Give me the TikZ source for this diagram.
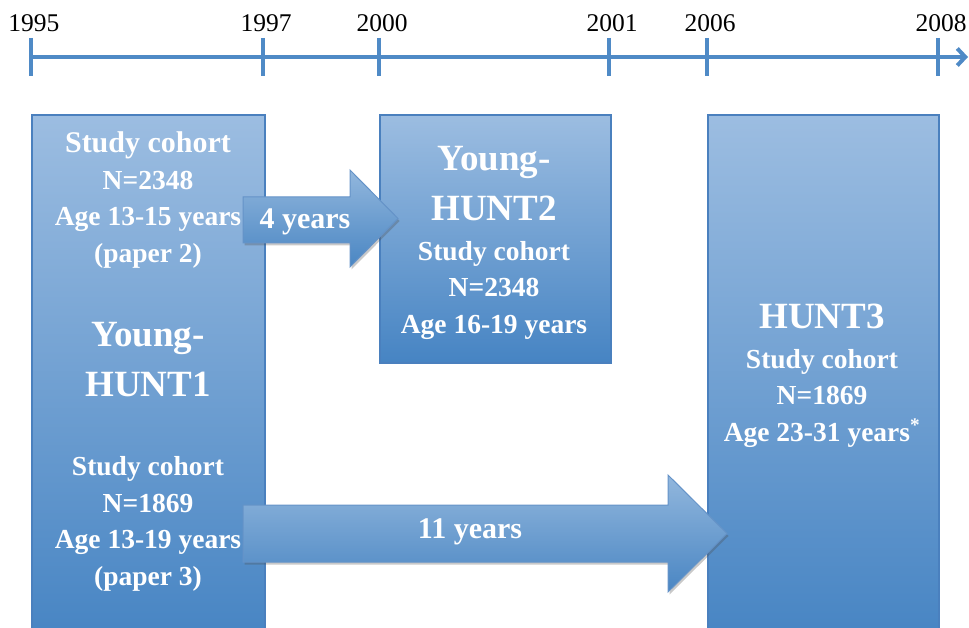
\documentclass[tikz,border=0pt]{standalone}
\usepackage{fontspec}
\setmainfont{Liberation Serif}
\usetikzlibrary{arrows.meta,shadows}
\definecolor{tl}{HTML}{4F8AC6}
\definecolor{btop}{HTML}{9CBDE1}
\definecolor{bbot}{HTML}{4684C3}
\definecolor{bord}{HTML}{4A80BE}
\definecolor{atop}{HTML}{92B7DD}
\definecolor{abot}{HTML}{4A86C3}
\tikzset{
  cohort/.style={draw=bord, line width=1.6pt, top color=btop, bottom color=bbot,
    drop shadow={shadow xshift=1.5pt, shadow yshift=-1.5pt, opacity=0.3, fill=black!70},
    anchor=north west, inner sep=0pt},
  arrowshape/.style={draw=bord!85, line width=1pt, top color=atop, bottom color=abot,
    drop shadow={shadow xshift=1.5pt, shadow yshift=-2.5pt, opacity=0.3, fill=black!70}},
  wtext/.style={text=white, font=\bfseries\fontsize{27.5}{36.5}\selectfont, align=center, inner sep=0pt},
  atext/.style={text=white, font=\bfseries\fontsize{30}{36}\selectfont, align=center, inner sep=0pt},
  ttext/.style={text=white, font=\bfseries\fontsize{37}{50}\selectfont, align=center, inner sep=0pt},
  year/.style={font=\fontsize{25.5}{30}\selectfont, inner sep=0pt},
  tickline/.style={draw=tl, line width=4pt},
}
\begin{document}
\begin{tikzpicture}[x=1pt,y=-1pt]
\useasboundingbox (0,0) rectangle (969,628);
\clip (0,0) rectangle (969,628);
% timeline
\coordinate (ts) at (31,57);
\coordinate (te) at (968,57);
\draw[tickline, -{Straight Barb[length=8pt,width=17pt,line width=4pt]}] (ts) -- (te);
\foreach \x/\yr in {31/1995,263/1997,379/2000,609/2001,707/2006,938/2008}{
  \draw[tickline] (\x,38) -- (\x,76);
  \node[year] (y\yr) at (\x+3,23.5) {\yr};
}
% boxes
\node[cohort, minimum width=233pt, minimum height=530pt] (b1) at (31,114) {};
\node[cohort, minimum width=231pt, minimum height=248pt] (b2) at (379,114) {};
\node[cohort, minimum width=231pt, minimum height=530pt] (b3) at (707,114) {};
% box texts
\node[wtext] (b1u) at (148,200) {{\fontsize{30}{36.5}\selectfont Study cohort}\\N=2348\\Age 13-15 years\\(paper 2)};
\node[ttext] (b1t) at (148,360) {Young-\\HUNT1};
\node[wtext] (b1l) at (148,524) {Study cohort\\N=1869\\Age 13-19 years\\(paper 3)};
\node[ttext] (b2t) at (494,184) {Young-\\HUNT2};
\node[wtext] (b2l) at (494,290) {Study cohort\\N=2348\\Age 16-19 years};
\node[ttext] (b3t) at (822,316) {HUNT3};
\node[wtext] (b3l) at (822,398) {Study cohort\\N=1869\\Age 23-31 years\textsuperscript{*}};
% arrows
\draw[arrowshape] (243,197) -- (350,197) -- (350,170) -- (398,218.5) -- (350,267) -- (350,243) -- (243,243) -- cycle;
\node[atext] (a1) at (305,222) {4 years};
\draw[arrowshape] (243,505) -- (668,505) -- (668,475) -- (727,533.5) -- (668,592) -- (668,562) -- (243,562) -- cycle;
\node[atext] (a2) at (470,532) {11 years};
\end{tikzpicture}
\end{document}
